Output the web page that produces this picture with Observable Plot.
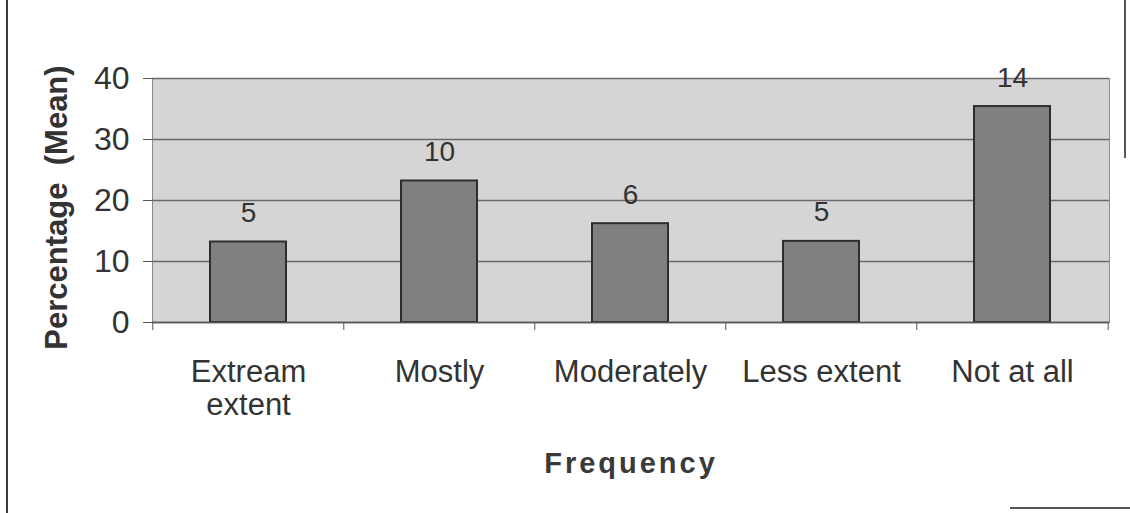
<!DOCTYPE html>
<html>
<head>
<meta charset="utf-8">
<script src="https://cdn.jsdelivr.net/npm/d3@7"></script>
<script src="https://cdn.jsdelivr.net/npm/@observablehq/plot@0.6"></script>
<style>
  html, body { margin: 0; padding: 0; background: #fff; }
  #wrap { position: relative; width: 1130px; height: 513px; overflow: hidden; }
  #edgeL { position: absolute; left: 6px; top: 0; width: 2px; height: 513px; background: #3a3a3a; }
  #edgeR { position: absolute; left: 1124px; top: 0; width: 2px; height: 158px; background: #555; }
  #edgeB { position: absolute; left: 1010px; top: 507px; width: 120px; height: 2px; background: #555; }
  svg { font-family: "Liberation Sans", Arial, sans-serif; }
</style>
</head>
<body>
<div id="wrap"><div id="chart"></div><div id="edgeL"></div><div id="edgeR"></div><div id="edgeB"></div></div>
<script>
const categories = ["Extream\nextent", "Mostly", "Moderately", "Less extent", "Not at all"];
const values = [13.2, 23.2, 16.2, 13.3, 35.4];
const labels = ["5", "10", "6", "5", "14"];
const yTicks = [0, 10, 20, 30, 40];
const yTitle = "Percentage  (Mean)";
const xTitle = "Frequency";

const data = categories.map((c, i) => ({cat: c, value: values[i], label: labels[i]}));

const W = 1130, H = 513, ML = 152, MR = 21, MT = 78, MB = 191;
const step = (W - ML - MR) / categories.length;

const plot = Plot.plot({
  width: W,
  height: H,
  marginLeft: ML,
  marginRight: MR,
  marginTop: MT,
  marginBottom: MB,
  style: {fontFamily: "Liberation Sans, Arial, sans-serif", color: "#333", background: "transparent"},
  x: {domain: categories, paddingInner: 0.6, paddingOuter: 0.3},
  y: {domain: [0, 40]},
  marks: [
    Plot.frame({fill: "#d5d5d5", stroke: "#8a8a8a"}),
    Plot.gridY(yTicks, {stroke: "#6a6a6a", strokeOpacity: 1, strokeWidth: 1.3}),
    Plot.barY(data, {x: "cat", y: "value", fill: "#808080", stroke: "#2e2e2e", strokeWidth: 2}),
    Plot.text(data, {x: "cat", y: "value", text: "label", dy: -20, lineAnchor: "bottom", fontSize: 28, fill: "#333"}),
    Plot.ruleY([0], {stroke: "#555", strokeWidth: 1.5}),
    Plot.axisY({ticks: yTicks, tickSize: 9, tickPadding: 14, fontSize: 32, label: null, stroke: "#555", fill: "#333"}),
    Plot.axisX({tickSize: 8, text: null, dx: -step / 2, label: null, stroke: "#555"}),
    Plot.axisX({ticks: [categories[categories.length - 1]], tickSize: 8, text: null, dx: step / 2, label: null, stroke: "#555"}),
    Plot.axisX({tickSize: 0, tickPadding: 37, fontSize: 31, lineHeight: 1.04, label: null, fill: "#333"}),
    Plot.text([yTitle], {frameAnchor: "left", textAnchor: "middle", dx: -95, dy: 7, rotate: -90, fontSize: 31, fontWeight: "bold", fill: "#333"}),
    Plot.text([xTitle], {frameAnchor: "bottom", dy: 150, fontSize: 29, fontWeight: "bold", fill: "#3a3a3a"})
  ]
});

d3.select(plot).selectAll("text").filter(function() { return this.textContent === xTitle; })
  .style("letter-spacing", "3px");
document.getElementById("chart").appendChild(plot);
</script>
</body>
</html>
